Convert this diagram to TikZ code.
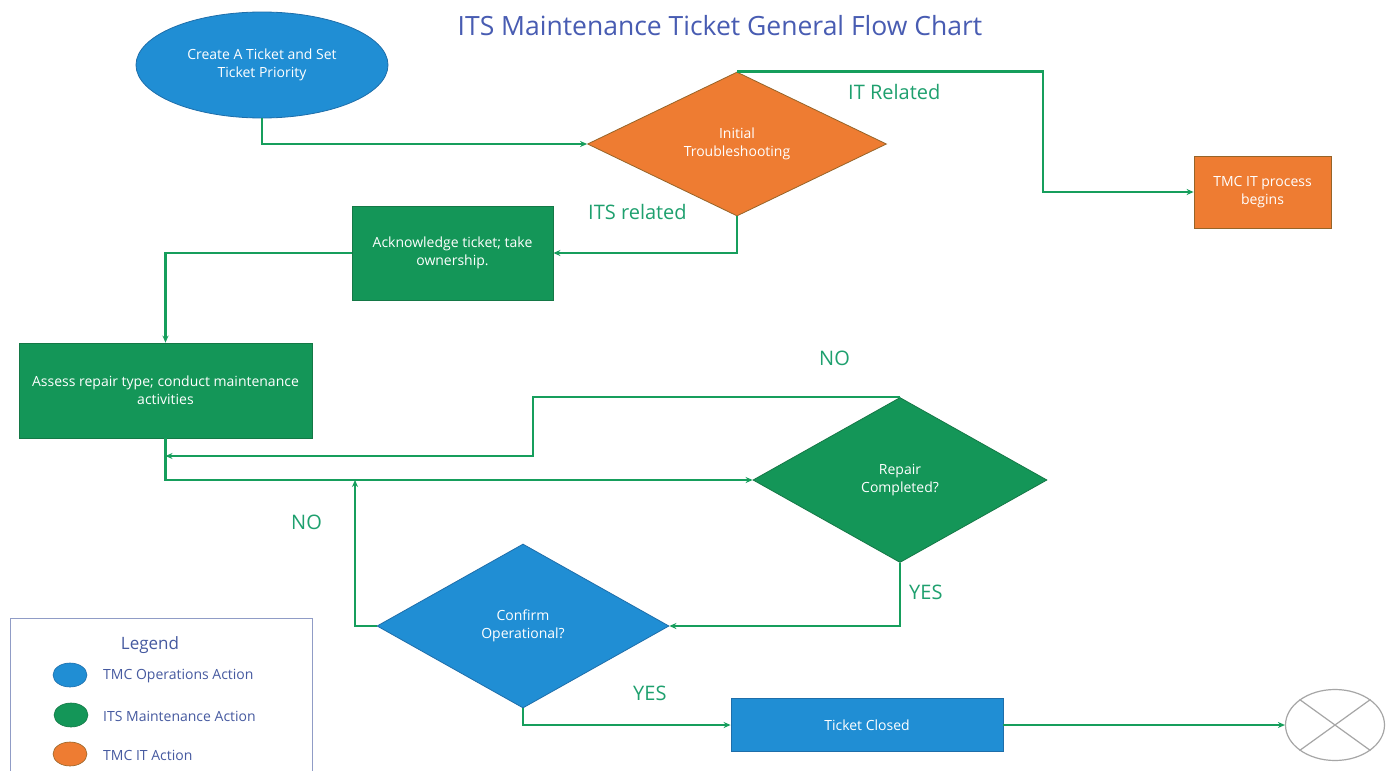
\documentclass[tikz,border=0pt]{standalone}
\usepackage{fontspec}
\setmainfont{Open Sans}
\usetikzlibrary{shapes.geometric,arrows.meta,calc}
\definecolor{cblue}{RGB}{32,142,212}
\definecolor{cbluedk}{RGB}{30,110,170}
\definecolor{cgreen}{RGB}{20,150,88}
\definecolor{cgreendk}{RGB}{20,120,70}
\definecolor{corange}{RGB}{238,124,50}
\definecolor{corangedk}{RGB}{150,100,40}
\definecolor{cline}{RGB}{22,158,92}
\definecolor{clabel}{RGB}{30,160,110}
\definecolor{ctitle}{RGB}{72,92,178}
\definecolor{clegend}{RGB}{70,90,160}
\tikzset{
  x=1pt,y=-1pt,
  base/.style={inner sep=0pt,text=white,font=\fontsize{14}{18}\selectfont,align=center,line width=0.8pt},
  bluebox/.style={base,fill=cblue,draw=cbluedk},
  greenbox/.style={base,fill=cgreen,draw=cgreendk},
  orangebox/.style={base,fill=corange,draw=corangedk},
  dia/.style={diamond,inner sep=0pt},
  flow/.style={draw=cline,line width=2.4pt,-{Stealth[length=7pt,width=6pt]}},
  lab/.style={text=clabel,font=\fontsize{20}{24}\selectfont,inner sep=0pt},
  legtext/.style={text=clegend,font=\fontsize{14}{17}\selectfont,anchor=west,inner sep=0pt},
  legdot/.style={ellipse,minimum width=34pt,minimum height=24pt,inner sep=0pt,line width=0.6pt}
}
\begin{document}
\begin{tikzpicture}
\useasboundingbox (0,0) rectangle (1390,771);
\fill[white] (0,0) rectangle (1390,771);

\node[text=ctitle,font=\fontsize{26.5}{30}\selectfont] (title) at (720,26) {ITS Maintenance Ticket General Flow Chart};

% nodes
\node[bluebox,ellipse,minimum width=252pt,minimum height=106pt] (create) at (262,65) {Create A Ticket and Set\\Ticket Priority};
\node[orangebox,dia,minimum width=299pt,minimum height=144pt] (init) at (737,144) {Initial\\Troubleshooting};
\node[orangebox,minimum width=137pt,minimum height=72pt] (itbox) at (1262.5,192) {TMC IT process\\begins};
\node[greenbox,minimum width=201pt,minimum height=94pt] (ack) at (452.5,253) {Acknowledge ticket; take\\ownership.};
\node[greenbox,minimum width=293pt,minimum height=95pt] (assess) at (165.5,390.5) {Assess repair type; conduct maintenance\\activities};
\node[greenbox,dia,minimum width=294pt,minimum height=165pt] (repair) at (900,480) {Repair\\Completed?};
\node[bluebox,dia,minimum width=292pt,minimum height=164pt] (confirm) at (523,626) {Confirm\\Operational?};
\node[bluebox,minimum width=272pt,minimum height=53pt] (closed) at (867,725) {Ticket Closed};
\node[ellipse,draw=gray!70,line width=1.2pt,minimum width=99pt,minimum height=71pt,inner sep=0pt] (endc) at (1335,725) {};
\draw[gray!70,line width=1.2pt] (endc.north west) -- (endc.south east) (endc.north east) -- (endc.south west);

% coordinates
\coordinate (jIT) at (1043,192);
\coordinate (noA) at (533,456);
\coordinate (noB) at (assess.south |- noA);
\coordinate (noC) at (355,480);

% connectors
\draw[flow] (create.south) |- (init.west);
\draw[flow] (init.north) -| (jIT) -- (itbox.west);
\draw[flow] (init.south) |- (ack.east);
\draw[flow] (ack.west) -| (assess.north);
\draw[flow] (assess.south) |- (repair.west);
\draw[flow] (repair.north) -| (noA) -- (noB);
\draw[flow] (repair.south) |- (confirm.east);
\draw[flow] (confirm.west) -| (noC);
\draw[flow] (confirm.south) |- (closed.west);
\draw[flow] (closed.east) -- (endc.west);

% labels
\node[lab,anchor=west] (l1) at (848,92) {IT Related};
\node[lab,anchor=west] (l2) at (588,212) {ITS related};
\node[lab,anchor=west] (l3) at (819,358) {NO};
\node[lab,anchor=west] (l4) at (909,592) {YES};
\node[lab,anchor=west] (l5) at (291,522) {NO};
\node[lab,anchor=west] (l6) at (633,693) {YES};

% legend
\draw[draw=clegend!60,line width=1pt] (10,775) -- (10,618) -- (312,618) -- (312,775);
\node[text=clegend,font=\fontsize{17}{20}\selectfont] (legtitle) at (150,645) {Legend};
\node[legdot,fill=cblue,draw=cbluedk] (d1) at (70,675) {};
\node[legdot,fill=cgreen,draw=cgreendk] (d2) at (71,715) {};
\node[legdot,fill=corange,draw=corangedk] (d3) at (70,754) {};
\node[legtext] (t1) at (103,676) {TMC Operations Action};
\node[legtext] (t2) at (103,716) {ITS Maintenance Action};
\node[legtext] (t3) at (103,755) {TMC IT Action};
\end{tikzpicture}
\end{document}
